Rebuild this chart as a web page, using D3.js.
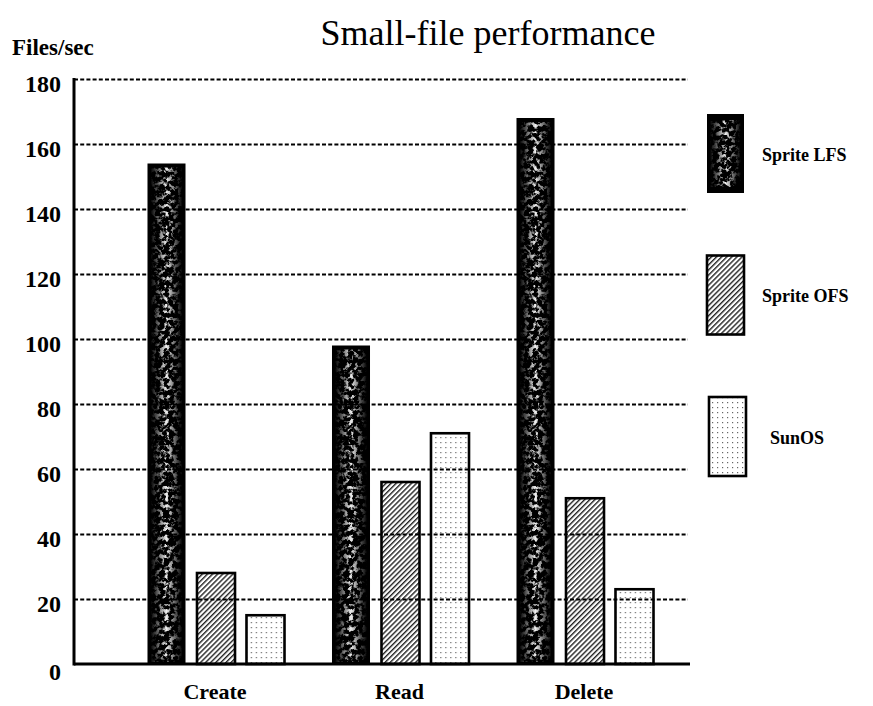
<!DOCTYPE html>
<html>
<head>
<meta charset="utf-8">
<script src="https://cdn.jsdelivr.net/npm/d3@7/dist/d3.min.js"></script>
<style>
  html, body { margin: 0; padding: 0; background: #fff; }
  svg { display: block; }
  text { font-family: "Liberation Serif", "Times New Roman", serif; fill: #000; }
</style>
</head>
<body>
<svg id="chart" width="873" height="706"></svg>
<script>
// ---- data ----
const categories = ["Create", "Read", "Delete"];
const seriesNames = ["Sprite LFS", "Sprite OFS", "SunOS"];
const spriteLFS = [154, 98, 168];
const spriteOFS = [28, 56, 51];
const sunOS = [15, 71, 23];
const yTicks = [0, 20, 40, 60, 80, 100, 120, 140, 160, 180];
const titleText = "Small-file performance";
const yLabel = "Files/sec";

const seriesValues = [spriteLFS, spriteOFS, sunOS];
const table = categories.map((c, i) => ({
  category: c,
  values: seriesNames.map((s, j) => ({ series: s, value: seriesValues[j][i] }))
}));

const svg = d3.select("#chart");
const defs = svg.append("defs");

// speckle filter for LFS bars
const f = defs.append("filter").attr("id", "speckle")
  .attr("x", 0).attr("y", 0).attr("width", 1).attr("height", 1);
f.append("feTurbulence").attr("type", "fractalNoise").attr("baseFrequency", 0.22)
  .attr("numOctaves", 3).attr("seed", 5).attr("result", "n");
f.append("feColorMatrix").attr("in", "n").attr("type", "matrix")
  .attr("values", "0 0 0 0 0.85  0 0 0 0 0.85  0 0 0 0 0.85  6 0 0 0 -2.9").attr("result", "w");
f.append("feComposite").attr("in", "w").attr("in2", "SourceGraphic").attr("operator", "in");

const g1 = defs.append("linearGradient").attr("id", "fade").attr("x1", 0).attr("x2", 1).attr("y1", 0).attr("y2", 0);
[[0, 0], [0.2, 0.35], [0.5, 1], [0.8, 0.35], [1, 0]].forEach(([o, a]) =>
  g1.append("stop").attr("offset", o).attr("stop-color", "#fff").attr("stop-opacity", a));

// hatch pattern
const hp = defs.append("pattern").attr("id", "hatch").attr("patternUnits", "userSpaceOnUse")
  .attr("width", 3.6).attr("height", 3.6).attr("patternTransform", "rotate(45)");
hp.append("rect").attr("width", 3.6).attr("height", 3.6).attr("fill", "#fff");
hp.append("rect").attr("width", 1.4).attr("height", 3.6).attr("fill", "#222");

// dot pattern
const dp = defs.append("pattern").attr("id", "dots").attr("patternUnits", "userSpaceOnUse")
  .attr("width", 5).attr("height", 5);
dp.append("rect").attr("width", 5).attr("height", 5).attr("fill", "#fff");
dp.append("rect").attr("x", 2).attr("y", 2).attr("width", 1.2).attr("height", 1.2).attr("fill", "#666");

// ---- scales ----
const y = d3.scaleLinear().domain([0, 180]).range([664, 79]);
const x0 = d3.scaleBand().domain(categories).range([123.75, 677.25]).paddingInner(0).paddingOuter(0);
const bw = x0.bandwidth();
const x1 = d3.scaleBand().domain(seriesNames)
  .range([(bw - 148.5) / 2, (bw + 148.5) / 2]).paddingInner(0.232).paddingOuter(0.116);

const axisX = 74;
const gridEnd = 688;

// ---- bars ----
const groups = svg.append("g").selectAll("g").data(table).join("g")
  .attr("transform", d => `translate(${x0(d.category)},0)`);

groups.each(function (d) {
  const g = d3.select(this);
  d.values.forEach(v => {
    const bx = x1(v.series), by = y(v.value), bh = y(0) - y(v.value), w = x1.bandwidth();
    if (v.series === "Sprite LFS") {
      g.append("rect").attr("x", bx).attr("y", by).attr("width", w).attr("height", bh)
        .attr("fill", "#000");
      g.append("rect").attr("x", bx + 3).attr("y", by + 4).attr("width", w - 6).attr("height", bh - 6)
        .attr("fill", "url(#fade)").attr("filter", "url(#speckle)");
    } else {
      g.append("rect").attr("x", bx).attr("y", by).attr("width", w).attr("height", bh)
        .attr("fill", v.series === "Sprite OFS" ? "url(#hatch)" : "url(#dots)")
        .attr("stroke", "#000").attr("stroke-width", 2.6);
    }
  });
});

// ---- gridlines ----
const grid = svg.append("g").attr("transform", `translate(${axisX},0)`)
  .call(d3.axisRight(y).tickValues(yTicks.filter(t => t > 0)).tickSize(gridEnd - axisX).tickFormat(""));
grid.select(".domain").remove();
grid.selectAll(".tick line").attr("stroke", "#000").attr("stroke-width", 2)
  .attr("stroke-dasharray", "4,2.2");

// ---- y axis ----
svg.append("line").attr("x1", axisX).attr("x2", axisX).attr("y1", y(180) - 1).attr("y2", y(0) + 1.5)
  .attr("stroke", "#000").attr("stroke-width", 3);
svg.append("line").attr("x1", axisX).attr("x2", 690).attr("y1", y(0)).attr("y2", y(0))
  .attr("stroke", "#000").attr("stroke-width", 3);

const yAx = svg.append("g").attr("transform", `translate(61,0)`)
  .call(d3.axisLeft(y).tickValues(yTicks).tickSize(0).tickPadding(0));
yAx.select(".domain").remove();
yAx.selectAll(".tick text").attr("font-family", "Liberation Serif, serif")
  .attr("font-weight", "bold").attr("font-size", 24).attr("dy", "0.5em");
yAx.selectAll(".tick").filter(d => d === 0).select("text").attr("dy", "0.65em");

// ---- x labels ----
svg.append("g").selectAll("text").data(categories).join("text")
  .attr("x", d => x0(d) + bw / 2 - 1).attr("y", 699)
  .attr("text-anchor", "middle").attr("font-weight", "bold").attr("font-size", 22)
  .text(d => d);

// ---- title & y label ----
svg.append("text").attr("x", 488).attr("y", 45).attr("text-anchor", "middle")
  .attr("font-size", 36).text(titleText);
svg.append("text").attr("x", 12).attr("y", 55).attr("font-weight", "bold")
  .attr("font-size", 23).text(yLabel);

// ---- legend ----
const ly = d3.scaleLinear().domain([0, 2]).range([114, 397]);
const legendFill = ["LFS", "url(#hatch)", "url(#dots)"];
const labelDx = [55, 55, 63];
seriesNames.forEach((s, i) => {
  const top = ly(i), lx = 707 + (i === 2 ? 2 : 0), w = 37, h = 79;
  if (i === 0) {
    svg.append("rect").attr("x", lx).attr("y", top).attr("width", w).attr("height", h).attr("fill", "#000");
    svg.append("rect").attr("x", lx + 3).attr("y", top + 6).attr("width", w - 6).attr("height", h - 12)
      .attr("fill", "url(#fade)").attr("filter", "url(#speckle)");
  } else {
    svg.append("rect").attr("x", lx).attr("y", top).attr("width", w).attr("height", h)
      .attr("fill", legendFill[i]).attr("stroke", "#000").attr("stroke-width", 2.6);
  }
  svg.append("text").attr("x", 707 + labelDx[i]).attr("y", top + h / 2 + 7)
    .attr("font-weight", "bold").attr("font-size", 18).text(s);
});
</script>
</body>
</html>
